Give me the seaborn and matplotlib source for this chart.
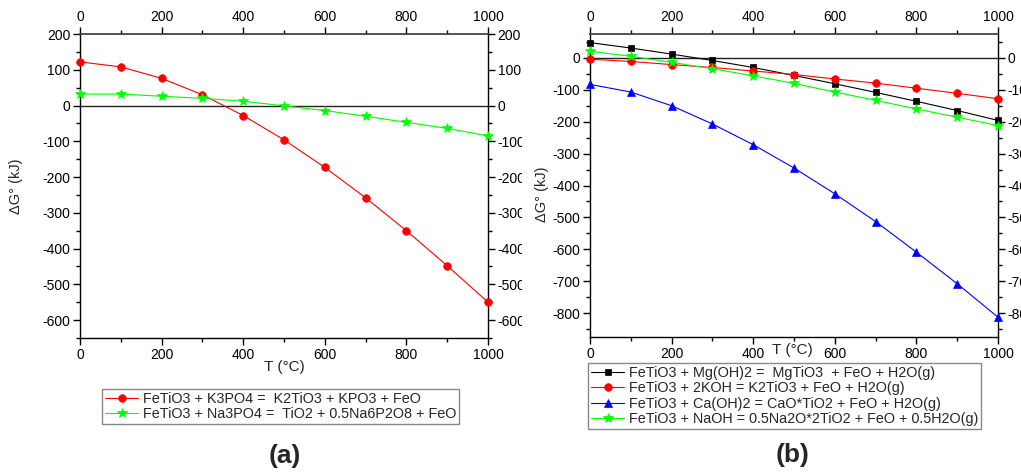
import numpy as np
import pandas as pd
import matplotlib
matplotlib.use("Agg")
import matplotlib.pyplot as plt
from matplotlib.ticker import MultipleLocator
from matplotlib.transforms import Bbox
import seaborn as sns

# ---- data ----
temps = [0, 100, 200, 300, 400, 500, 600, 700, 800, 900, 1000]

a_k3po4 = [122, 108, 76, 30, -28, -96, -173, -258, -350, -448, -550]
a_na3po4 = [32, 32, 26, 20, 12, -1, -14, -30, -47, -64, -85]
a_labels = ["FeTiO3 + K3PO4 =  K2TiO3 + KPO3 + FeO",
            "FeTiO3 + Na3PO4 =  TiO2 + 0.5Na6P2O8 + FeO"]

b_mgoh = [48, 31, 12, -8, -30, -55, -81, -108, -136, -165, -196]
b_koh = [-4, -11, -21, -30, -41, -52, -66, -79, -95, -111, -128]
b_caoh = [-83, -107, -150, -207, -272, -345, -426, -513, -609, -708, -813]
b_naoh = [21, 5, -14, -34, -56, -80, -107, -133, -160, -186, -212]
b_labels = ["FeTiO3 + Mg(OH)2 =  MgTiO3  + FeO + H2O(g)",
            "FeTiO3 + 2KOH = K2TiO3 + FeO + H2O(g)",
            "FeTiO3 + Ca(OH)2 = CaO*TiO2 + FeO + H2O(g)",
            "FeTiO3 + NaOH = 0.5Na2O*2TiO2 + FeO + 0.5H2O(g)"]

xlabel = "T (°C)"
ylabel = "ΔG° (kJ)"

sns.set_theme(style="ticks")
plt.rcParams['font.family'] = ['Liberation Sans', 'DejaVu Sans']
plt.rcParams['axes.unicode_minus'] = False

W, H = 1021, 475
fig = plt.figure(figsize=(W / 100, H / 100), dpi=100)

def fx(px):
    return px / W

def fy(py):
    return 1 - py / H

axA = fig.add_axes([fx(80), fy(338), fx(488 - 80), fy(34) - fy(338)])
axB = fig.add_axes([fx(590), fy(337), fx(998 - 590), fy(34) - fy(337)])

def draw(ax, series, labels, styles):
    for vals, lab, (col, mk, ms) in zip(series, labels, styles):
        df = pd.DataFrame({"T": temps, "G": vals})
        sns.lineplot(data=df, x="T", y="G", ax=ax, color=col, marker=mk,
                     markersize=ms, markeredgecolor=col, markeredgewidth=0.5,
                     linewidth=0.8, label=lab, clip_on=False, zorder=3)
    ax.axhline(0, color="#222222", lw=1.0, zorder=2)

draw(axA, [a_k3po4, a_na3po4], a_labels,
     [("#ff0000", "o", 5.5), ("#00ff00", "*", 7)])
draw(axB, [b_mgoh, b_koh, b_caoh, b_naoh], b_labels,
     [("#000000", "s", 4.5), ("#ff0000", "o", 5.5), ("#0000ff", "^", 5.5), ("#00ff00", "*", 7)])

axA.set_ylim(-650, 200)
axB.set_ylim(-875, 75)

for ax in (axA, axB):
    ax.set_xlim(0, 1000)
    ax.xaxis.set_major_locator(MultipleLocator(200))
    ax.xaxis.set_minor_locator(MultipleLocator(100))
    ax.yaxis.set_major_locator(MultipleLocator(100))
    ax.yaxis.set_minor_locator(MultipleLocator(50))
    ax.tick_params(which="both", direction="out", top=True, right=True,
                   labeltop=True, labelright=True, labelsize=10,
                   colors="black", pad=2)
    ax.tick_params(which="major", length=5, width=1)
    ax.tick_params(which="minor", length=3, width=1)
    for s in ax.spines.values():
        s.set_visible(True)
        s.set_color("black")
        s.set_linewidth(1.0)
    ax.spines["top"].set_color("#444444")
    ax.spines["top"].set_linewidth(1.3)
    ax.set_xlabel(xlabel, fontsize=11, labelpad=1)
    ax.set_ylabel(ylabel, fontsize=10.5)
    ax.grid(False)

axA.yaxis.set_label_coords(-0.14, 0.5)
axA.xaxis.set_label_coords(0.5, -0.072)
axB.yaxis.set_label_coords(-0.10, 0.47)
axB.xaxis.set_label_coords(0.495, -0.02)

# legends
legA = axA.legend(loc="upper left", bbox_to_anchor=(fx(102), fy(389)),
                  bbox_transform=fig.transFigure, fontsize=10.4, frameon=True,
                  fancybox=False, edgecolor="#888888", framealpha=1,
                  borderpad=0.2, labelspacing=0.1, handlelength=2.3,
                  handletextpad=0.35, borderaxespad=0)
legB = axB.legend(loc="upper left", bbox_to_anchor=(fx(588), fy(363)),
                  bbox_transform=fig.transFigure, fontsize=10.4, frameon=True,
                  fancybox=False, edgecolor="#888888", framealpha=1,
                  borderpad=0.2, labelspacing=0.1, handlelength=2.3,
                  handletextpad=0.35, borderaxespad=0)
for lg in (legA, legB):
    lg.get_frame().set_linewidth(1.0)

fig.text(fx(285), fy(456), "(a)", fontsize=19, fontweight="bold",
         ha="center", va="center")
fig.text(fx(793), fy(455), "(b)", fontsize=19, fontweight="bold",
         ha="center", va="center")

# clip right-side labels of the left panel like the reference
fig.canvas.draw()
clip = Bbox.from_extents(0, 0, 522, H)
for lbl in axA.get_yticklabels(which="both"):
    lbl.set_clip_box(clip)
    lbl.set_clip_on(True)

fig.savefig("out.png", dpi=100)
